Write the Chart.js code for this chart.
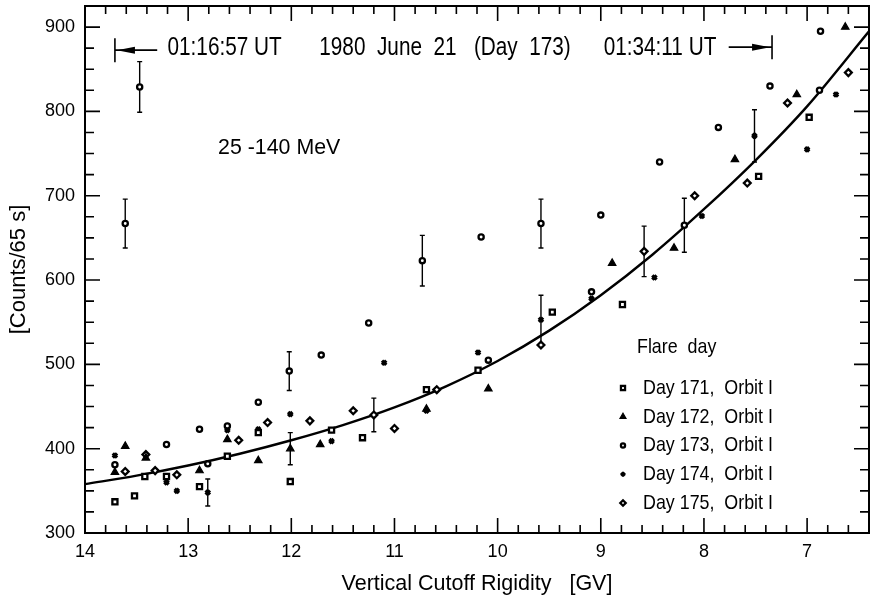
<!DOCTYPE html>
<html>
<head>
<meta charset="utf-8">
<script src="https://cdn.jsdelivr.net/npm/chart.js@4.4.1/dist/chart.umd.min.js"></script>
<style>
  html, body { margin: 0; padding: 0; background: #fff; }
</style>
</head>
<body>
<canvas id="chart" width="870" height="597"></canvas>
<script>
// [rigidity GV, counts / 65 s, error (0 = none)]
const day171 = [[13.71,337,0],[13.52,344,0],[13.42,367,0],[13.21,367,0],[12.89,355,0],[12.62,391,0],[12.32,419,0],[12.01,361,0],[11.61,422,0],[11.31,413,0],[10.69,470,0],[10.19,493,0],[9.47,562,0],[8.79,571,0],[7.47,723,0],[6.98,793,0]];
const day172 = [[13.71,372,0],[13.61,403,0],[13.41,389,0],[12.89,374,0],[12.62,411,0],[12.32,386,0],[12.01,400,19],[11.72,405,0],[10.69,447,0],[10.09,471,0],[8.89,620,0],[8.29,638,0],[7.70,743,0],[7.10,820,0],[6.63,900,0]];
const day173 = [[13.71,381,0],[13.61,667,29],[13.47,829,30],[13.21,405,0],[12.89,423,0],[12.81,382,0],[12.62,427,0],[12.32,455,0],[12.02,492,23],[11.71,511,0],[11.25,549,0],[10.73,623,30],[10.16,651,0],[10.09,505,0],[9.58,667,29],[9.09,586,0],[9.00,677,0],[8.43,740,0],[8.19,665,32],[7.86,781,0],[7.36,830,0],[6.88,825,0],[6.87,895,0]];
const day174 = [[13.71,392,0],[13.21,360,0],[13.11,350,0],[12.81,348,16],[12.62,422,0],[12.32,423,0],[12.01,441,0],[11.61,409,0],[11.10,502,0],[10.69,445,0],[10.19,514,0],[9.58,553,29],[9.09,578,0],[8.48,603,0],[8.02,676,0],[7.51,771,31],[7.00,755,0],[6.72,820,0]];
const day175 = [[13.61,373,0],[13.41,393,0],[13.32,374,0],[13.11,369,0],[12.51,410,0],[12.23,431,0],[11.82,433,0],[11.40,445,0],[11.20,440,20],[11.00,424,0],[10.59,470,0],[9.58,523,0],[8.58,634,30],[8.09,700,0],[7.58,715,0],[7.19,810,0],[6.60,846,0]];

// fitted curve
const fitX = [14, 13.5, 13, 12.5, 12, 11.5, 11, 10.5, 10, 9.5, 9, 8.5, 8, 7.5, 7, 6.4];
const fitY = [358, 368, 380, 394, 410, 428, 449, 474, 504, 540, 582, 630, 684, 742, 806, 895];

const dayLabels = ['Day 171,  Orbit I', 'Day 172,  Orbit I', 'Day 173,  Orbit I', 'Day 174,  Orbit I', 'Day 175,  Orbit I'];
const xTickValues = [14, 13, 12, 11, 10, 9, 8, 7];
const yTickValues = [300, 400, 500, 600, 700, 800, 900];

const X_MIN = 6.4, X_MAX = 14, Y_MIN = 300, Y_MAX = 925;

const FONT = "'Liberation Sans', Arial, sans-serif";

const markers = [
  { style: 'rect', radius: 3.6, fill: '#fff', bw: 2.3 },
  { style: 'triangle', radius: 4.3, fill: '#000', bw: 1.2 },
  { style: 'circle', radius: 2.6, fill: '#fff', bw: 2.3 },
  { style: 'crossRot', radius: 3, fill: '#000', bw: 3.3 },
  { style: 'rectRot', radius: 3.4, fill: '#fff', bw: 2.3 }
];

const datasets = [day171, day172, day173, day174, day175].map((pts, i) => ({
  label: dayLabels[i],
  data: pts.map(p => ({ x: p[0], y: p[1] })),
  errors: pts.map(p => p[2]),
  pointStyle: markers[i].style,
  pointRadius: markers[i].radius,
  pointBackgroundColor: markers[i].fill,
  pointBorderColor: '#000',
  pointBorderWidth: markers[i].bw,
  clip: false
}));
datasets.push({
  label: 'fit',
  data: fitX.map((x, i) => ({ x, y: fitY[i] })),
  showLine: true,
  pointRadius: 0,
  borderColor: '#000',
  borderWidth: 2.4,
  cubicInterpolationMode: 'monotone'
});

// text squeezed sideways, the original lettering is condensed
function narrowText(ctx, text, x, y, align, squeeze) {
  ctx.save();
  ctx.translate(x, y);
  ctx.scale(squeeze, 1);
  ctx.textAlign = align;
  ctx.fillText(text, 0, 0);
  ctx.restore();
}

// error bars behind the markers
const errorBars = {
  id: 'errorBars',
  beforeDatasetsDraw(chart) {
    const { ctx } = chart, ys = chart.scales.y;
    ctx.save();
    ctx.strokeStyle = '#000';
    ctx.lineWidth = 1.4;
    chart.data.datasets.forEach((ds, di) => {
      if (!ds.errors) return;
      const meta = chart.getDatasetMeta(di);
      ds.errors.forEach((e, i) => {
        if (!e) return;
        const px = meta.data[i].x;
        const top = ys.getPixelForValue(ds.data[i].y + e);
        const bot = ys.getPixelForValue(ds.data[i].y - e);
        ctx.beginPath();
        ctx.moveTo(px, top); ctx.lineTo(px, bot);
        ctx.moveTo(px - 2.5, top); ctx.lineTo(px + 2.5, top);
        ctx.moveTo(px - 2.5, bot); ctx.lineTo(px + 2.5, bot);
        ctx.stroke();
      });
    });
    ctx.restore();
  }
};

// box with inward ticks on all four sides
const frame = {
  id: 'frame',
  afterDatasetsDraw(chart) {
    const { ctx, chartArea: a, scales: { x, y } } = chart;
    ctx.save();
    ctx.strokeStyle = '#000';
    ctx.lineWidth = 1.6;
    ctx.beginPath();
    for (let i = 1; ; i++) {
      const v = Y_MIN + i * 25;
      if (v >= Y_MAX) break;
      const len = v % 100 === 0 ? 15 : 9;
      const p = y.getPixelForValue(v);
      ctx.moveTo(a.left, p); ctx.lineTo(a.left + len, p);
      ctx.moveTo(a.right, p); ctx.lineTo(a.right - len, p);
    }
    for (let i = 1; ; i++) {
      const v = X_MAX - i * 0.2;
      if (v <= X_MIN + 1e-6) break;
      const len = i % 5 === 0 ? 15 : 8;
      const p = x.getPixelForValue(v);
      ctx.moveTo(p, a.bottom); ctx.lineTo(p, a.bottom - len);
      ctx.moveTo(p, a.top); ctx.lineTo(p, a.top + len);
    }
    ctx.stroke();
    ctx.lineWidth = 2;
    ctx.strokeRect(a.left, a.top, a.right - a.left, a.bottom - a.top);
    ctx.restore();
  }
};

// header, energy band and legend
const annotations = {
  id: 'annotations',
  afterDraw(chart) {
    const { ctx, chartArea: a, scales: { x, y } } = chart;
    const X = v => x.getPixelForValue(v), Y = v => y.getPixelForValue(v);
    ctx.save();
    ctx.fillStyle = '#000';
    ctx.strokeStyle = '#000';
    ctx.textBaseline = 'middle';

    const hy = Y(875);
    ctx.font = `25px ${FONT}`;
    narrowText(ctx, '01:16:57 UT', X(13.2), hy, 'left', 0.83);
    narrowText(ctx, '1980  June  21   (Day  173)', X(10.51), hy, 'center', 0.83);
    narrowText(ctx, '01:34:11 UT', X(7.88), hy, 'right', 0.83);

    // left arrow
    const lb = X(13.71), le = X(13.3), ly = hy + 2;
    ctx.lineWidth = 1.6;
    ctx.beginPath();
    ctx.moveTo(lb, ly - 12); ctx.lineTo(lb, ly + 12);
    ctx.moveTo(lb, ly); ctx.lineTo(le, ly);
    ctx.stroke();
    ctx.beginPath();
    ctx.moveTo(lb + 2, ly); ctx.lineTo(lb + 20, ly - 3.5); ctx.lineTo(lb + 20, ly + 3.5);
    ctx.closePath(); ctx.fill();
    // right arrow
    const rb = X(7.34), rs = X(7.76), ry = hy - 1;
    ctx.beginPath();
    ctx.moveTo(rb, ry - 12); ctx.lineTo(rb, ry + 12);
    ctx.moveTo(rs, ry); ctx.lineTo(rb, ry);
    ctx.stroke();
    ctx.beginPath();
    ctx.moveTo(rb - 2, ry); ctx.lineTo(rb - 20, ry - 3.5); ctx.lineTo(rb - 20, ry + 3.5);
    ctx.closePath(); ctx.fill();

    ctx.font = `22px ${FONT}`;
    narrowText(ctx, '25 -140 MeV', X(12.71), Y(757), 'left', 0.97);

    // legend
    const mx = a.right - 246, tx = a.right - 226;
    ctx.font = `21px ${FONT}`;
    narrowText(ctx, 'Flare  day', a.right - 232, a.bottom - 186, 'left', 0.85);
    chart.data.datasets.forEach((ds, i) => {
      if (!ds.errors) return;
      const ly = a.bottom - 145 + i * 28.75;
      ctx.fillStyle = ds.pointBackgroundColor;
      ctx.lineWidth = ds.pointBorderWidth;
      Chart.helpers.drawPoint(ctx, { pointStyle: ds.pointStyle, radius: ds.pointRadius * 0.8, rotation: 0, borderWidth: ds.pointBorderWidth }, mx, ly);
      ctx.fillStyle = '#000';
      narrowText(ctx, ds.label, tx, ly, 'left', 0.85);
    });
    ctx.restore();
  }
};

new Chart(document.getElementById('chart'), {
  type: 'scatter',
  data: { datasets },
  plugins: [errorBars, frame, annotations],
  options: {
    responsive: false,
    animation: false,
    events: [],
    layout: { autoPadding: false, padding: { top: 6, right: 1, left: 0, bottom: 0 } },
    plugins: { legend: { display: false }, tooltip: { enabled: false } },
    scales: {
      x: {
        type: 'linear', reverse: true, min: X_MIN, max: X_MAX,
        grid: { display: false, drawTicks: false },
        border: { display: false },
        afterBuildTicks: s => { s.ticks = xTickValues.map(v => ({ value: v })); },
        afterFit: s => { s.height = 64; s.paddingLeft = 0; s.paddingRight = 0; },
        ticks: { color: '#000', font: { family: FONT, size: 18 }, padding: 8, maxRotation: 0, autoSkip: false },
        title: { display: true, text: 'Vertical Cutoff Rigidity   [GV]', color: '#000', font: { family: FONT, size: 21.5, lineHeight: 1.2 }, padding: 0 }
      },
      y: {
        type: 'linear', min: Y_MIN, max: Y_MAX,
        grid: { display: false, drawTicks: false },
        border: { display: false },
        afterBuildTicks: s => { s.ticks = yTickValues.map(v => ({ value: v })); },
        afterFit: s => { s.width = 85; s.paddingTop = 0; s.paddingBottom = 0; },
        ticks: { color: '#000', font: { family: FONT, size: 18 }, padding: 10 },
        title: { display: true, text: '[Counts/65 s]', color: '#000', font: { family: FONT, size: 22, lineHeight: 1.2 }, padding: { top: 6, bottom: 0 } }
      }
    }
  }
});
</script>
</body>
</html>
